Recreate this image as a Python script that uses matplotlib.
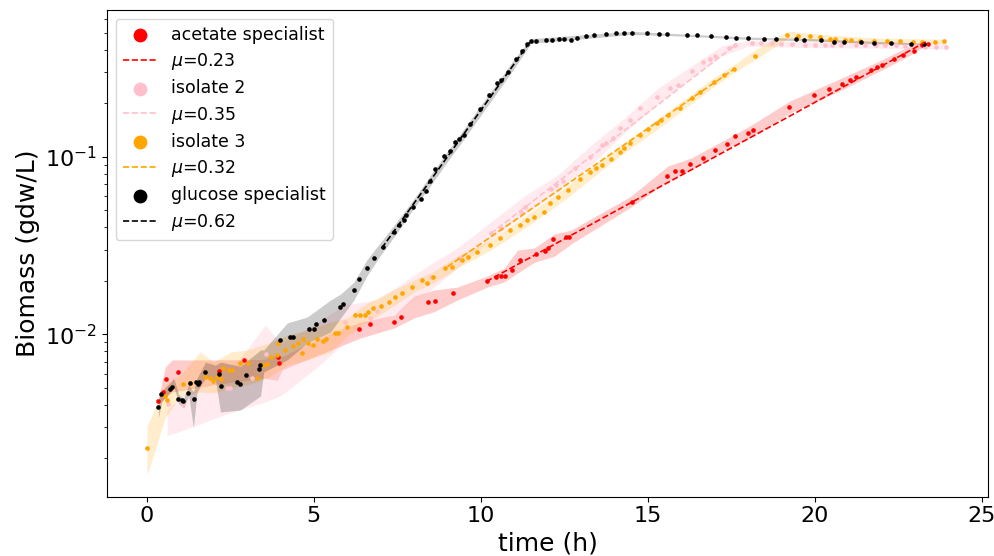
import matplotlib
matplotlib.use("Agg")
import matplotlib.pyplot as plt

# ---------------- data ----------------
names = ["acetate specialist", "isolate 2", "isolate 3", "glucose specialist"]
colors = ["red", "pink", "orange", "black"]
mu_labels = [0.23, 0.35, 0.32, 0.62]

# acetate specialist (red)
red_t = [0.34, 0.49, 0.56, 0.94, 2.17, 2.92, 3.92, 3.95, 6.36, 6.68, 7.39, 7.60, 8.41, 8.63, 9.18,
         10.19, 10.46, 10.61, 10.71, 10.94, 11.16, 11.66, 11.91, 12.01, 12.17, 12.56, 12.65, 14.52,
         15.58, 15.83, 16.04, 16.27, 16.65, 17.01, 17.36, 17.62, 18.01, 18.15, 19.24, 19.98, 20.42,
         20.81, 21.07, 21.23, 21.70, 21.88, 22.03, 22.37, 22.66, 22.98, 23.23, 23.40]
red_y = [0.00420, 0.00472, 0.00558, 0.00616, 0.00624, 0.00712, 0.00740, 0.00687, 0.0107, 0.0114,
         0.0117, 0.01247, 0.0152, 0.01545, 0.0170, 0.01987, 0.0209, 0.0212, 0.0212, 0.0230, 0.0262,
         0.0282, 0.0294, 0.0305, 0.0342, 0.0354, 0.0354, 0.0557, 0.0782, 0.0835, 0.0835, 0.0909,
         0.0986, 0.1085, 0.1185, 0.1306, 0.1366, 0.1420, 0.191, 0.222, 0.242, 0.257, 0.271, 0.281,
         0.307, 0.321, 0.328, 0.353, 0.372, 0.394, 0.425, 0.431]
red_band_t = [0.34, 0.55, 0.75, 2.0, 3.5, 3.9, 4.05, 5.5, 6.4, 7.4, 8.0, 8.6, 9.3, 10.2, 10.7, 11.1,
              11.6, 12.2, 12.7, 14.5, 15.6, 16.3, 17.4, 18.1, 19.25, 20.8, 22.0, 22.7, 23.3]
red_band_lo = [0.00405, 0.00439, 0.00473, 0.00519, 0.00567, 0.0055, 0.0063, 0.00816, 0.00953,
               0.01085, 0.01236, 0.0134, 0.0156, 0.01845, 0.0197, 0.0221, 0.0254, 0.0275, 0.0322,
               0.0521, 0.0729, 0.0841, 0.1118, 0.1289, 0.176, 0.237, 0.307, 0.359, 0.419]
red_band_hi = [0.00439, 0.00655, 0.00717, 0.00717, 0.00722, 0.00766, 0.0075, 0.01017, 0.0117,
               0.01285, 0.01643, 0.01775, 0.01845, 0.0213, 0.0236, 0.0298, 0.0306, 0.0367, 0.0386,
               0.060, 0.0886, 0.0983, 0.1273, 0.1506, 0.2056, 0.277, 0.350, 0.408, 0.447]
red_fit_t = [10.16, 23.33]
red_fit_y = [0.0198, 0.443]

# isolate 2 (pink)
pink_t = [0.62, 1.09, 2.40, 2.50, 3.15, 3.56, 5.92, 6.67, 6.90, 8.51, 9.34, 10.31, 10.59, 11.21,
          11.31, 12.11, 12.26, 12.46, 12.83, 13.26, 13.62, 13.74, 13.97, 14.17, 14.47, 14.77, 15.27,
          15.67, 15.92, 16.32, 16.67, 16.87, 17.02, 17.42, 17.62, 18.12, 18.4, 18.72, 19.0, 19.32,
          19.7, 20.02, 20.3, 20.53, 20.8, 21.23, 21.5, 21.83, 22.1, 22.43, 22.7, 23.03, 23.3, 23.63,
          23.93]
pink_y = [0.00403, 0.00407, 0.00497, 0.00497, 0.00570, 0.00775, 0.01173, 0.01235, 0.01352, 0.0211,
          0.0268, 0.0370, 0.0395, 0.0490, 0.0523, 0.0657, 0.0692, 0.0734, 0.0863, 0.0999, 0.1162,
          0.1188, 0.1268, 0.1443, 0.1607, 0.187, 0.2173, 0.2423, 0.2529, 0.3031, 0.342, 0.357, 0.368,
          0.410, 0.425, 0.4385, 0.437, 0.434, 0.432, 0.430, 0.427, 0.425, 0.425, 0.425, 0.424,
          0.4235, 0.424, 0.425, 0.424, 0.4235, 0.421, 0.419, 0.417, 0.415, 0.415]
pink_band_t = [0.6, 1.1, 2.4, 3.55, 4.0, 5.0, 5.9, 6.9, 8.5, 9.3, 10.3, 11.3, 12.3, 13.3, 14.3, 15.3,
               16.3, 17.2, 18.0, 20.0, 23.93]
pink_band_lo = [0.00268, 0.00289, 0.00356, 0.00416, 0.0045, 0.0063, 0.00886, 0.01128, 0.01775,
                0.0236, 0.0340, 0.0469, 0.0632, 0.0897, 0.136, 0.1977, 0.277, 0.368, 0.419, 0.411,
                0.405]
pink_band_hi = [0.00375, 0.00457, 0.0059, 0.01128, 0.00886, 0.01128, 0.01463, 0.0156, 0.0249,
                0.0306, 0.0429, 0.060, 0.0788, 0.1162, 0.165, 0.243, 0.3235, 0.419, 0.453, 0.445,
                0.435]
pink_fit_t = [10.3, 17.62]
pink_fit_y = [0.0369, 0.425]

# isolate 3 (orange)
orange_t = [0.0, 0.55, 0.61, 1.09, 1.29, 1.74, 1.89, 1.99, 2.09, 2.21, 2.29, 2.47, 2.54, 2.79, 3.04,
            3.29, 3.46, 3.59, 3.71, 3.89, 3.93, 4.14, 4.38, 4.53, 4.64, 4.68, 4.83, 4.98, 5.09, 5.27,
            5.36, 5.63, 5.73, 5.98, 6.23, 6.38, 6.53, 6.62, 6.78, 7.01, 7.25, 7.43, 7.63, 7.93, 8.23,
            8.38, 8.58, 8.93, 9.13, 9.43, 9.63, 9.88, 10.28, 10.58, 10.88, 11.18, 11.38, 11.58,
            11.88, 12.08, 12.3, 12.6, 12.98, 13.28, 13.45, 13.63, 13.9, 14.17, 14.3, 14.47, 14.77,
            15.0, 15.27, 15.4, 15.62, 15.97, 16.32, 16.57, 16.97, 17.27, 17.57, 18.22, 19.17, 19.5,
            19.87, 20.17, 20.47, 20.62, 20.9, 21.1, 21.37, 21.77, 22.17, 22.57, 22.96, 23.22, 23.61,
            23.86]
orange_y = [0.00228, 0.00451, 0.00427, 0.00527, 0.0053, 0.00577, 0.00565, 0.00548, 0.00577, 0.00558,
            0.00644, 0.0063, 0.0063, 0.00687, 0.00687, 0.00565, 0.00672, 0.00678, 0.00748, 0.00765,
            0.0089, 0.00816, 0.00859, 0.0089, 0.00782, 0.00937, 0.0089, 0.00871, 0.00937, 0.0092,
            0.00937, 0.01013, 0.01013, 0.01104, 0.0128, 0.0128, 0.0128, 0.0134, 0.0140, 0.01443,
            0.0151, 0.01628, 0.0170, 0.01853, 0.0202, 0.01936, 0.0211, 0.0235, 0.0240, 0.0262,
            0.0273, 0.0292, 0.0318, 0.0347, 0.0386, 0.0412, 0.0440, 0.0459, 0.0490, 0.0546, 0.059,
            0.065, 0.0748, 0.0822, 0.086, 0.0897, 0.097, 0.1066, 0.112, 0.1188, 0.1323, 0.143,
            0.154, 0.160, 0.1714, 0.189, 0.2129, 0.2318, 0.2639, 0.2878, 0.3119, 0.3683, 0.4834,
            0.479, 0.4773, 0.4729, 0.463, 0.459, 0.455, 0.452, 0.449, 0.449, 0.449, 0.449, 0.443,
            0.440, 0.440, 0.447]
orange_band_t = [0.0, 0.55, 1.0, 1.6, 2.0, 2.5, 3.0, 3.6, 4.2, 4.8, 5.5, 6.0, 6.5, 7.2, 8.0, 8.6,
                 9.3, 10.3, 11.5, 12.5, 14.0, 15.5, 17.0, 17.6, 18.2, 19.2, 20.5, 22.0, 23.86]
orange_band_lo = [0.00161, 0.0034, 0.0045, 0.00473, 0.00467, 0.00499, 0.00519, 0.00567, 0.0067,
                  0.00717, 0.00795, 0.00978, 0.01143, 0.0137, 0.0173, 0.0195, 0.0236, 0.0298,
                  0.0418, 0.057, 0.0957, 0.1526, 0.2496, 0.299, 0.35, 0.465, 0.441, 0.434, 0.434]
orange_band_hi = [0.00302, 0.0052, 0.0059, 0.00795, 0.00697, 0.00795, 0.00816, 0.00886, 0.0099,
                  0.01057, 0.0117, 0.01236, 0.01463, 0.0171, 0.0202, 0.0227, 0.0276, 0.0340, 0.0488,
                  0.0666, 0.1089, 0.1737, 0.2805, 0.332, 0.398, 0.509, 0.483, 0.465, 0.459]
orange_fit_t = [9.0, 17.57]
orange_fit_y = [0.024, 0.31]

# glucose specialist (black)
black_t = [0.34, 0.41, 0.69, 0.76, 0.94, 1.04, 1.09, 1.24, 1.29, 1.41, 1.47, 1.52, 1.56, 1.74, 2.15,
           2.22, 2.69, 2.79, 2.97, 3.34, 3.39, 3.99, 4.27, 4.37, 4.86, 4.99, 5.06, 5.29,
           5.79, 5.87, 6.19, 6.36, 6.58, 6.79, 7.06, 7.41, 7.54, 7.71, 7.76, 7.98, 8.21, 8.35, 8.49,
           8.64, 8.89, 9.07, 9.24, 9.35, 9.49, 9.69, 9.99, 10.24, 10.49, 10.59, 10.8, 11.04, 11.24,
           11.39,
           11.49, 11.64, 11.94, 12.14, 12.34, 12.49, 12.69, 12.89, 13.14, 13.39, 13.74, 14.04, 14.29,
           14.54, 14.99, 15.34, 15.59, 16.19, 16.49, 16.89, 17.34, 17.64, 17.99, 18.49, 18.84, 19.44,
           19.69, 20.19, 20.59, 20.89, 21.39, 21.79, 22.29, 22.89, 23.29]
black_y = [0.00388, 0.00462, 0.00493, 0.00508, 0.00433, 0.00428, 0.0042, 0.00466, 0.00531, 0.00433,
           0.00538, 0.00522, 0.00538, 0.00612, 0.0060, 0.0051, 0.00538, 0.00526, 0.00586, 0.0064,
           0.00668, 0.00933, 0.00966, 0.00966, 0.01064, 0.01077, 0.01148, 0.0120,
           0.01425, 0.0149, 0.01774, 0.0204, 0.0237, 0.0268, 0.0309, 0.0379, 0.0413, 0.0441, 0.0469,
           0.0520, 0.0577, 0.064, 0.0725, 0.0853, 0.1005, 0.107, 0.1205, 0.126, 0.133, 0.152, 0.1845,
           0.224, 0.261, 0.272, 0.30, 0.353, 0.394, 0.430,
           0.448, 0.448, 0.452, 0.453, 0.458, 0.458, 0.452, 0.469, 0.479, 0.483, 0.489, 0.495, 0.500,
           0.500, 0.495, 0.491, 0.488, 0.483, 0.483, 0.479, 0.474, 0.469, 0.466, 0.462, 0.462, 0.458,
           0.453, 0.452, 0.445, 0.443, 0.443, 0.438, 0.435, 0.433, 0.431]
black_band_t = [0.34, 0.45, 0.7, 0.8, 0.95, 1.1, 1.25, 1.39, 1.5, 1.75, 2.05, 2.2, 2.8, 3.4, 3.5,
                4.2, 4.8, 5.5, 5.8, 6.2, 6.6, 7.0, 7.5, 8.0, 8.5, 9.0, 9.5, 10.0, 10.5, 11.0, 11.5,
                13.0, 14.5, 16.0, 18.0, 20.0, 22.0, 23.3]
black_band_lo = [0.00338, 0.0042, 0.00473, 0.00512, 0.00406, 0.00385, 0.0045, 0.00297, 0.00473,
                 0.00567, 0.00553, 0.00365, 0.00375, 0.00449, 0.00614, 0.00717, 0.00893, 0.0103,
                 0.01236, 0.0156, 0.0215, 0.0280, 0.0375, 0.0515, 0.069, 0.094, 0.126, 0.171,
                 0.232, 0.315, 0.435, 0.46, 0.488, 0.478, 0.458, 0.448, 0.432, 0.426]
black_band_hi = [0.0043, 0.0048, 0.00536, 0.00567, 0.00457, 0.00437, 0.0052, 0.00473, 0.00567,
                 0.00697, 0.0067, 0.00697, 0.0066, 0.00816, 0.00816, 0.01158, 0.01251, 0.0156,
                 0.01685, 0.0197, 0.0265, 0.0330, 0.0435, 0.058, 0.079, 0.107, 0.144, 0.195,
                 0.262, 0.355, 0.462, 0.485, 0.508, 0.492, 0.472, 0.462, 0.445, 0.436]
black_fit_t = [7.03, 11.49]
black_fit_y = [0.0305, 0.448]

# ---------------- plot ----------------
pts_t = [red_t, pink_t, orange_t, black_t]
pts_y = [red_y, pink_y, orange_y, black_y]
band_t = [red_band_t, pink_band_t, orange_band_t, black_band_t]
band_lo = [red_band_lo, pink_band_lo, orange_band_lo, black_band_lo]
band_hi = [red_band_hi, pink_band_hi, orange_band_hi, black_band_hi]
fit_t = [red_fit_t, pink_fit_t, orange_fit_t, black_fit_t]
fit_y = [red_fit_y, pink_fit_y, orange_fit_y, black_fit_y]
band_alpha = [0.2, 0.3, 0.2, 0.2]

fig = plt.figure(figsize=(9.94, 5.56), dpi=100)
ax = fig.add_axes([0.1076, 0.107, 0.8866, 0.875])

for i in range(4):
    ax.fill_between(band_t[i], band_lo[i], band_hi[i], color=colors[i],
                    alpha=band_alpha[i], linewidth=0, zorder=1)
    ax.scatter(pts_t[i], pts_y[i], s=11, color=colors[i], linewidths=0,
               label=names[i], zorder=3)
    ax.plot(fit_t[i], fit_y[i], linestyle="--", color=colors[i], lw=1.2,
            label=f"$\\mu$={mu_labels[i]:.2f}", zorder=4)

ax.set_yscale("log")
ax.set_xlim(-1.2, 25.2)
ax.set_ylim(1.22e-3, 0.67)
ax.set_xticks([0, 5, 10, 15, 20, 25])
ax.set_xlabel("time (h)", fontsize=18)
ax.set_ylabel("Biomass (gdw/L)", fontsize=18)
ax.tick_params(axis="both", which="major", labelsize=16)
ax.legend(loc="upper left", fontsize=12.5, markerscale=3.0, labelspacing=0.42)

fig.savefig("out.png", dpi=100)
